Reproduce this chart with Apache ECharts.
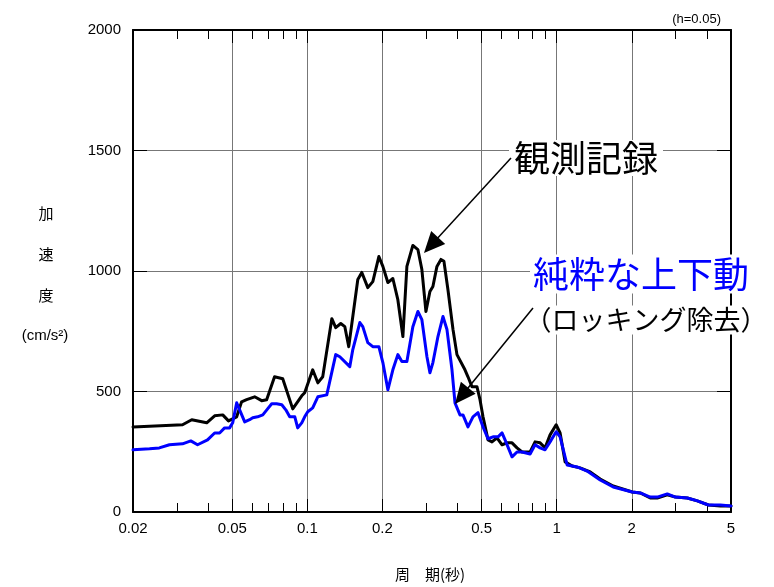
<!DOCTYPE html>
<html><head><meta charset="utf-8">
<script src="https://cdn.jsdelivr.net/npm/echarts@6/dist/echarts.min.js"></script>
<style>html,body{margin:0;padding:0;background:#fff}#c{width:774px;height:587px}</style>
</head><body><div id="c"></div>
<script>
// 観測記録 (observed record)
const periodObs = [0.02,0.0316,0.0344,0.0395,0.0425,0.0458,0.0483,0.0521,0.0545,0.0571,0.0615,0.0656,0.0687,0.0739,0.0797,0.0874,0.0950,0.0976,0.1051,0.1102,0.1153,0.1254,0.1300,0.1362,0.1414,0.1466,0.1594,0.1654,0.1748,0.1831,0.1936,0.2009,0.2104,0.2203,0.2307,0.2417,0.2508,0.2650,0.2776,0.2880,0.2990,0.3102,0.3189,0.3310,0.3435,0.3531,0.3663,0.3839,0.3982,0.4287,0.4408,0.4573,0.4789,0.4926,0.5065,0.5304,0.5503,0.5763,0.6038,0.6323,0.6621,0.6933,0.7261,0.7823,0.8191,0.8579,0.8983,0.9408,0.995,1.032,1.081,1.154,1.241,1.363,1.494,1.685,2.009,2.163,2.372,2.531,2.776,2.991,3.341,3.665,4.058,4.536,5.0];
const accelObs = [353,362,383,370,399,403,378,395,457,466,478,462,466,561,553,428,482,495,590,536,561,802,765,782,769,686,965,994,931,956,1060,1019,952,969,881,728,1019,1106,1089,1006,832,915,936,1019,1048,1040,923,757,653,590,561,520,520,466,395,299,291,308,279,287,287,266,249,249,291,287,266,320,362,328,208,191,183,166,137,108,83,79,58,58,71,62,58,46,29,25,25];
// 純粋な上下動 (pure vertical motion)
const periodPure = [0.02,0.0233,0.0255,0.0280,0.0316,0.0341,0.0363,0.0398,0.0425,0.0445,0.0466,0.0488,0.0502,0.0521,0.0561,0.0587,0.0604,0.0632,0.0663,0.0693,0.0720,0.0753,0.0790,0.0820,0.0850,0.0891,0.0915,0.0950,0.0976,0.1004,0.1051,0.1102,0.1197,0.1300,0.1350,0.1480,0.1522,0.1624,0.1669,0.1748,0.1831,0.1936,0.2009,0.2104,0.2203,0.2307,0.2395,0.2508,0.2650,0.2776,0.2880,0.3018,0.3102,0.3189,0.3341,0.3499,0.3631,0.3803,0.3910,0.4094,0.4209,0.4408,0.4616,0.4835,0.5065,0.5304,0.5555,0.5818,0.6038,0.6208,0.6621,0.6933,0.7261,0.7823,0.8191,0.8579,0.8983,0.9408,0.995,1.032,1.101,1.207,1.325,1.494,1.685,2.009,2.163,2.372,2.531,2.776,2.991,3.341,3.665,4.058,4.536,5.0];
const accelPure = [258,262,266,279,283,295,279,299,328,328,349,349,370,453,374,383,391,395,403,428,449,449,445,424,395,395,349,370,395,416,432,478,486,653,644,603,674,786,769,703,686,686,620,507,590,653,624,624,769,832,798,644,578,620,728,811,757,590,453,403,403,353,395,412,353,304,312,312,328,299,229,249,249,241,279,266,258,291,333,312,195,187,170,133,104,83,79,62,62,75,62,58,46,29,29,25];

const xLabelValues = [0.02,0.05,0.1,0.2,0.5,1,2,5];
const xMajorTicks = [0.05,0.1,0.2,0.5,1,2];
const xMinorTicks = [0.03,0.04,0.06,0.07,0.08,0.09,0.3,0.4,0.6,0.7,0.8,0.9,3,4];
const yMin = 0, yMax = 2000, yStep = 500;

const LAT = 'Liberation Sans, Arial, sans-serif';
const CJK = 'Noto Sans CJK JP, sans-serif';

const chart = echarts.init(document.getElementById('c'), null, {renderer: 'canvas'});

function logAxis(pos, ticks, len, opts) {
  return Object.assign({
    type: 'log', logBase: 10, min: 0.02, max: 5, position: pos,
    axisLine: {show: false},
    axisTick: {show: true, inside: true, length: len, customValues: ticks, lineStyle: {color: '#000', width: 1}},
    axisLabel: {show: false},
    splitLine: {show: false}
  }, opts || {});
}

function arrow(x1, y1, x2, y2, hl, hw) {
  const dx = x2 - x1, dy = y2 - y1, L = Math.hypot(dx, dy);
  const ux = dx / L, uy = dy / L, nx = -uy, ny = ux;
  const bx = x2 - ux * hl, by = y2 - uy * hl;
  return [
    {type: 'line', z: 120, shape: {x1: x1, y1: y1, x2: bx + ux * 2, y2: by + uy * 2}, style: {stroke: '#000', lineWidth: 1.5}},
    {type: 'polygon', z: 120, shape: {points: [[x2, y2], [bx + nx * hw, by + ny * hw], [bx - nx * hw, by - ny * hw]]}, style: {fill: '#000'}}
  ];
}

const option = {
  animation: false,
  backgroundColor: '#fff',
  grid: {left: 133, right: 43, top: 30, bottom: 75, containLabel: false},
  xAxis: [
    logAxis('bottom', xMajorTicks, 13, {
      axisLine: {show: true, lineStyle: {color: '#000', width: 2}},
      axisLabel: {show: true, customValues: xLabelValues, margin: 9, color: '#000', fontSize: 15, fontFamily: LAT,
        formatter: v => String(+(+v).toPrecision(3))},
      splitLine: {show: true, lineStyle: {color: '#777', width: 1}}
    }),
    logAxis('bottom', xMinorTicks, 9),
    logAxis('top', xMajorTicks, 13, {axisLine: {show: true, lineStyle: {color: '#000', width: 2}}}),
    logAxis('top', xMinorTicks, 9)
  ],
  yAxis: [
    {type: 'value', min: yMin, max: yMax, interval: yStep, position: 'left',
      axisLine: {show: true, lineStyle: {color: '#000', width: 2}},
      axisTick: {show: true, inside: true, length: 14, lineStyle: {color: '#000'}},
      axisLabel: {color: '#000', fontSize: 15, fontFamily: LAT, margin: 12, formatter: v => String(v)},
      splitLine: {show: true, lineStyle: {color: '#777', width: 1}}},
    {type: 'value', min: yMin, max: yMax, interval: yStep, position: 'right',
      axisLine: {show: true, lineStyle: {color: '#000', width: 2}},
      axisTick: {show: true, inside: true, length: 14, lineStyle: {color: '#000'}},
      axisLabel: {show: false}, splitLine: {show: false}}
  ],
  series: [
    {name: '観測記録', type: 'line', xAxisIndex: 0, yAxisIndex: 0, showSymbol: false, symbol: 'none', z: 3,
      lineStyle: {color: '#000', width: 3, join: 'round', cap: 'round'},
      data: periodObs.map((p, i) => [p, accelObs[i]])},
    {name: '純粋な上下動', type: 'line', xAxisIndex: 0, yAxisIndex: 0, showSymbol: false, symbol: 'none', z: 4,
      lineStyle: {color: '#0000ff', width: 3, join: 'round', cap: 'round'},
      data: periodPure.map((p, i) => [p, accelPure[i]])}
  ],
  graphic: [
    {type: 'text', z: 100, style: {text: '(h=0.05)', x: 721, y: 19, align: 'right', verticalAlign: 'middle', fontSize: 13, fontFamily: LAT, fill: '#000'}},
    {type: 'text', z: 100, style: {text: '加', x: 46, y: 213, align: 'center', verticalAlign: 'middle', fontSize: 15, fontFamily: CJK, fill: '#000'}},
    {type: 'text', z: 100, style: {text: '速', x: 46, y: 254, align: 'center', verticalAlign: 'middle', fontSize: 15, fontFamily: CJK, fill: '#000'}},
    {type: 'text', z: 100, style: {text: '度', x: 46, y: 295, align: 'center', verticalAlign: 'middle', fontSize: 15, fontFamily: CJK, fill: '#000'}},
    {type: 'text', z: 100, style: {text: '(cm/s²)', x: 45, y: 336, align: 'center', verticalAlign: 'middle', fontSize: 15, fontFamily: LAT, fill: '#000'}},
    {type: 'text', z: 100, style: {text: '周　期(秒)', x: 430, y: 574, align: 'center', verticalAlign: 'middle', fontSize: 15, fontFamily: CJK, fill: '#000'}},
    {type: 'text', z: 110, style: {text: '観測記録', x: 586, y: 158, align: 'center', verticalAlign: 'middle', fontSize: 36, fontFamily: CJK, fill: '#000', backgroundColor: '#fff', padding: [0, 5, 0, 5]}},
    {type: 'text', z: 110, style: {text: '純粋な上下動', x: 641, y: 274, align: 'center', verticalAlign: 'middle', fontSize: 36, fontFamily: CJK, fill: '#0000ff', backgroundColor: '#fff', padding: [3, 3, 0, 3]}},
    {type: 'text', z: 110, style: {text: '（ロッキング除去）', x: 646, y: 320, align: 'center', verticalAlign: 'middle', fontSize: 27, fontFamily: CJK, fill: '#000', backgroundColor: '#fff', padding: [1, 2, 1, 2]}}
  ].concat(arrow(511, 158, 424, 253, 21, 9.5)).concat(arrow(533, 308, 455, 404, 21, 9.5))
};
chart.setOption(option);
</script>
</body></html>
